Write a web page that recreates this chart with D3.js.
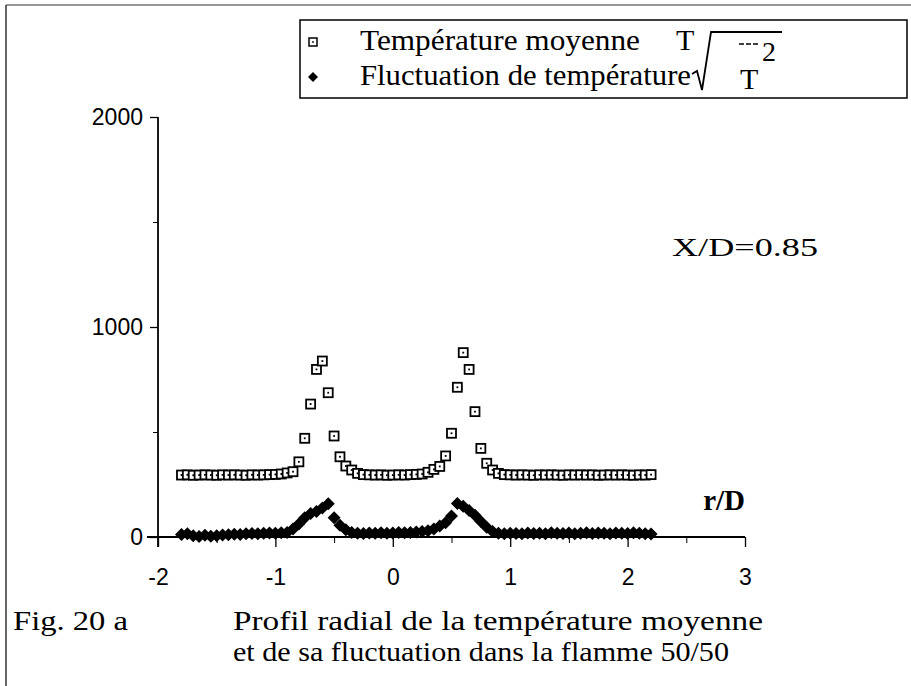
<!DOCTYPE html>
<html><head><meta charset="utf-8">
<script src="https://cdn.jsdelivr.net/npm/d3@7"></script>
<style>
html,body{margin:0;padding:0;background:#fff;}
svg{display:block;}
</style></head>
<body>
<svg id="chart" width="911" height="686"></svg>
<script>
// ---- data ----
const rValues = [-1.8,-1.75,-1.7,-1.65,-1.6,-1.55,-1.5,-1.45,-1.4,-1.35,-1.3,-1.25,-1.2,-1.15,-1.1,-1.05,-1.0,
  -0.95,-0.9,-0.85,-0.8,-0.75,-0.7,-0.65,-0.6,-0.55,-0.5,-0.45,-0.4,-0.35,-0.3,
  -0.25,-0.2,-0.15,-0.1,-0.05,0,0.05,0.1,0.15,0.2,
  0.25,0.3,0.35,0.4,0.45,0.5,0.55,0.6,0.65,0.7,0.75,0.8,0.85,0.9,
  0.95,1.0,1.05,1.1,1.15,1.2,1.25,1.3,1.35,1.4,1.45,1.5,1.55,1.6,1.65,1.7,1.75,1.8,1.85,1.9,1.95,2.0,2.05,2.1,2.15,2.2];
const meanTemp = [295,296,294,295,296,295,294,296,295,296,295,294,296,295,296,297,298,
  300,305,311,358,470,633,798,838,687,481,382,338,319,303,
  297,296,295,296,294,295,296,295,297,298,
  300,308,322,336,386,494,713,878,798,597,422,351,319,303,
  297,296,295,296,295,294,296,295,296,295,294,296,295,296,295,296,294,295,296,295,296,295,294,296,295,297];
const fluctTemp = [12,16,6,2,8,4,6,9,11,13,12,15,17,16,18,19,18,
  20,22,38,62,92,112,122,138,158,92,56,34,22,18,
  17,19,18,20,18,19,21,20,22,24,
  26,30,38,52,68,100,160,146,126,104,74,46,26,18,
  16,18,17,15,19,17,18,16,20,18,17,19,16,18,20,17,19,18,16,19,18,17,20,18,16,14];
const xTickLabels = [-2,-1,0,1,2,3];
const xMinorTicks = [-1.5,-0.5,0.5,1.5,2.5];
const yTickLabels = [0,1000,2000];
const yMinorTicks = [500,1500];
const legendLabels = ["Température moyenne", "Fluctuation de température"];
const annotation = "X/D=0.85";
const xTitle = "r/D";
const captionLeft = "Fig. 20 a";
const captionLines = ["Profil radial de la température moyenne", "et de sa fluctuation dans la flamme 50/50"];

const svg = d3.select("#chart");
const serif = "'Liberation Serif','Times New Roman',serif";
const sans = "'Liberation Sans',Arial,sans-serif";

const x = d3.scaleLinear().domain([-2,3]).range([158,745]);
const y = d3.scaleLinear().domain([0,2000]).range([537,117]);

// frame lines
svg.append("line").attr("x1",6).attr("x2",911).attr("y1",5).attr("y2",5).attr("stroke","#333").attr("stroke-width",1.2);
svg.append("line").attr("x1",6).attr("x2",6).attr("y1",5).attr("y2",686).attr("stroke","#333").attr("stroke-width",1.5);

// axes
const yAxis = svg.append("g").attr("transform","translate(158,0)")
  .call(d3.axisLeft(y).tickValues(yTickLabels).tickSize(8).tickPadding(7).tickFormat(d3.format("d")));
yAxis.select(".domain").remove();
yAxis.append("line").attr("x1",0).attr("x2",0).attr("y1",y(2000)).attr("y2",547).attr("stroke","#000").attr("stroke-width",1.8);
yAxis.selectAll(".tick line").attr("stroke-width",1.3);
yAxis.selectAll(".tick text").attr("font-family",sans).attr("font-size",23).attr("fill","#000");
const yMinor = svg.append("g").attr("transform","translate(158,0)")
  .call(d3.axisLeft(y).tickValues(yMinorTicks).tickSize(5).tickFormat(""));
yMinor.select(".domain").remove();

const xAxis = svg.append("g").attr("transform","translate(0,537)")
  .call(d3.axisBottom(x).tickValues(xTickLabels).tickSize(10).tickPadding(22).tickFormat(d3.format("d")));
xAxis.select(".domain").remove();
xAxis.append("line").attr("x1",147).attr("x2",x(3)).attr("y1",0).attr("y2",0).attr("stroke","#000").attr("stroke-width",1.8);
xAxis.selectAll(".tick line").attr("stroke-width",1.3);
xAxis.selectAll(".tick text").attr("font-family",sans).attr("font-size",23).attr("fill","#000")
  .text(d => d < 0 ? "-" + Math.abs(d) : d);
const xMinor = svg.append("g").attr("transform","translate(0,537)")
  .call(d3.axisBottom(x).tickValues(xMinorTicks).tickSize(6).tickFormat(""));
xMinor.select(".domain").remove();

// fluctuation diamonds (rotated squares)
const diamondPath = "M0,-6.5 L6.5,0 L0,6.5 L-6.5,0 Z";
svg.append("g").selectAll("path").data(rValues.map((r,i)=>({r, v: fluctTemp[i]})))
  .join("path").attr("d",diamondPath)
  .attr("transform",d=>`translate(${x(d.r)},${y(d.v)})`).attr("fill","#000");

// mean temperature squares
const sq = svg.append("g").selectAll("g").data(rValues.map((r,i)=>({r, v: meanTemp[i]})))
  .join("g").attr("transform",d=>`translate(${x(d.r)},${y(d.v)})`);
sq.append("rect").attr("x",-4.5).attr("y",-4.5).attr("width",9).attr("height",9)
  .attr("fill","#fff").attr("stroke","#000").attr("stroke-width",1.8);
sq.append("rect").attr("x",-0.9).attr("y",-0.9).attr("width",1.8).attr("height",1.8).attr("fill","#000");

// legend
const lg = svg.append("g");
lg.append("rect").attr("x",300).attr("y",20).attr("width",607).attr("height",78)
  .attr("fill","#fff").attr("stroke","#000").attr("stroke-width",1.5);
const lsq = lg.append("g").attr("transform","translate(313,42)");
lsq.append("rect").attr("x",-4).attr("y",-4).attr("width",8).attr("height",8).attr("fill","#fff").attr("stroke","#000").attr("stroke-width",1.5);
lsq.append("rect").attr("x",-0.8).attr("y",-0.8).attr("width",1.6).attr("height",1.6).attr("fill","#000");
lg.append("path").attr("d","M0,-5 L5,0 L0,5 L-5,0 Z").attr("transform","translate(313,77)").attr("fill","#000");
lg.append("text").attr("x",360).attr("y",50).attr("font-family",serif).attr("font-size",30)
  .attr("textLength",280).attr("lengthAdjust","spacingAndGlyphs").text(legendLabels[0]);
lg.append("text").attr("x",360).attr("y",85).attr("font-family",serif).attr("font-size",30)
  .attr("textLength",331).attr("lengthAdjust","spacingAndGlyphs").text(legendLabels[1]);
lg.append("text").attr("x",676).attr("y",50).attr("font-family",serif).attr("font-size",30).text("T");
// radical sign
lg.append("path").attr("d","M692,74 L697,71 L702,90 L711,32 L782,32").attr("fill","none").attr("stroke","#000").attr("stroke-width",1.8);
lg.append("text").attr("x",740).attr("y",89).attr("font-family",serif).attr("font-size",30).text("T");
lg.append("line").attr("x1",739).attr("x2",760).attr("y1",44).attr("y2",44).attr("stroke","#000").attr("stroke-width",1.5).attr("stroke-dasharray","5,2");
lg.append("text").attr("x",762).attr("y",61).attr("font-family",serif).attr("font-size",28).text("2");

// annotations
svg.append("text").attr("x",672).attr("y",256).attr("font-family",serif).attr("font-size",26)
  .attr("textLength",146).attr("lengthAdjust","spacingAndGlyphs").text(annotation);
svg.append("text").attr("x",745).attr("y",510).attr("text-anchor","end").attr("font-family",serif)
  .attr("font-weight","bold").attr("font-size",29).text(xTitle);

// caption
svg.append("text").attr("x",13).attr("y",630).attr("font-family",serif).attr("font-size",28)
  .attr("textLength",115).attr("lengthAdjust","spacingAndGlyphs").text(captionLeft);
svg.append("text").attr("x",233).attr("y",630).attr("font-family",serif).attr("font-size",28)
  .attr("textLength",530).attr("lengthAdjust","spacingAndGlyphs").text(captionLines[0]);
svg.append("text").attr("x",233).attr("y",661).attr("font-family",serif).attr("font-size",28)
  .attr("textLength",496).attr("lengthAdjust","spacingAndGlyphs").text(captionLines[1]);
</script>
</body></html>
